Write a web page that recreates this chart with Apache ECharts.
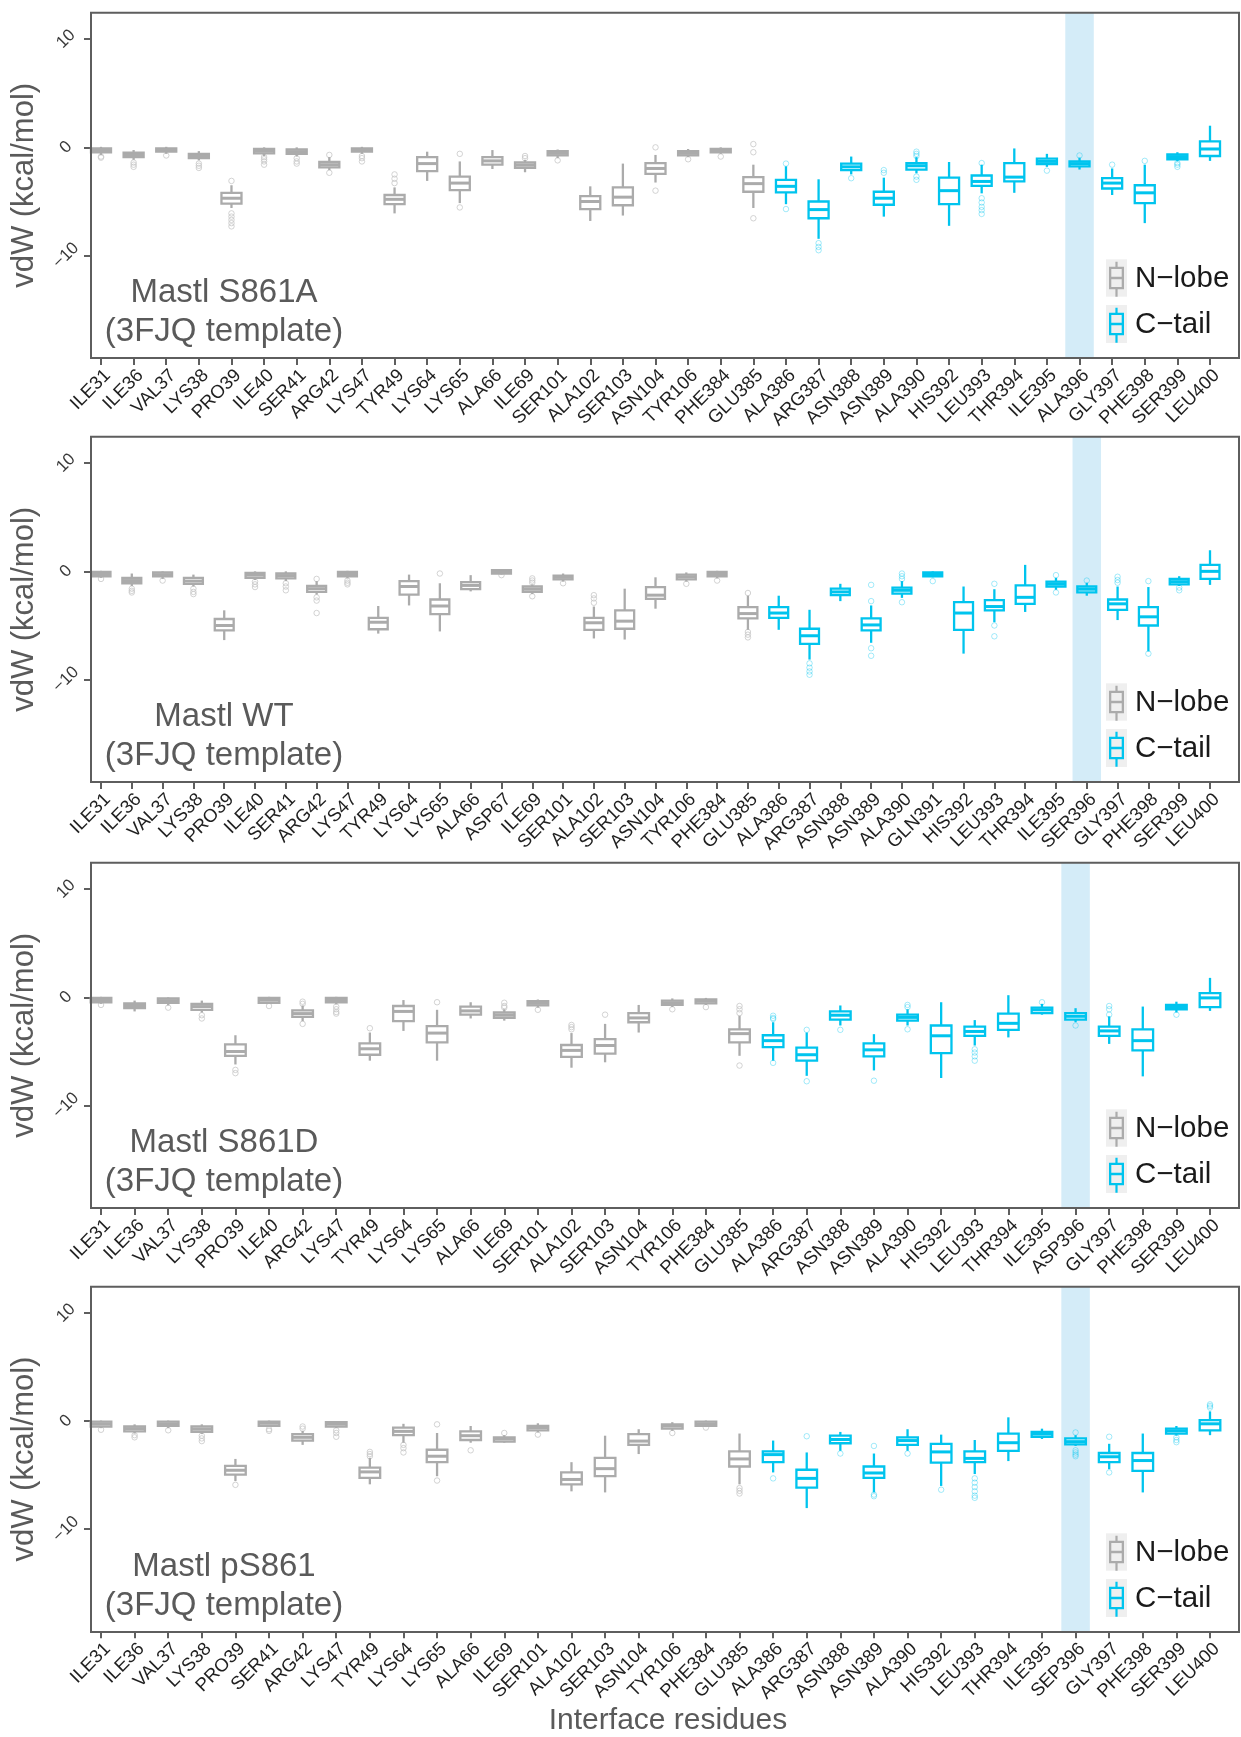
<!DOCTYPE html>
<html>
<head>
<meta charset="utf-8">
<script src="https://cdn.jsdelivr.net/npm/echarts@6/dist/echarts.min.js"></script>
<style>html,body{margin:0;padding:0;background:#fff}#chart{width:1241px;height:1737px}</style>
</head>
<body>
<div id="chart"></div>
<script>
// ---------------- data ----------------
const panelNames = ['Mastl S861A', 'Mastl WT', 'Mastl S861D', 'Mastl pS861'];
const templateLabel = '(3FJQ template)';
const groupNames = ['N\u2212lobe', 'C\u2212tail'];
const yTicks = [-10, 0, 10];
const yAxisTitle = 'vdW (kcal/mol)';
const xAxisTitle = 'Interface residues';
const highlightResidueNumber = 396;
const cTailFirstResidue = 386;

// box stats per residue: [lower whisker, Q1, median, Q3, upper whisker]
const residuesS861A = ['ILE31','ILE36','VAL37','LYS38','PRO39','ILE40','SER41','ARG42','LYS47','TYR49','LYS64','LYS65','ALA66','ILE69','SER101','ALA102','SER103','ASN104','TYR106','PHE384','GLU385','ALA386','ARG387','ASN388','ASN389','ALA390','HIS392','LEU393','THR394','ILE395','ALA396','GLY397','PHE398','SER399','LEU400'];
const boxesS861A = [
  [-0.7,-0.45,-0.28,-0.1,0.05],[-1.15,-0.9,-0.7,-0.5,-0.25],[-0.6,-0.4,-0.25,-0.1,0.05],[-1.2,-1.0,-0.8,-0.6,-0.35],
  [-5.6,-5.2,-4.7,-4.2,-3.5],[-0.8,-0.55,-0.35,-0.15,0.0],[-0.85,-0.6,-0.4,-0.2,0.0],[-2.1,-1.85,-1.6,-1.35,-0.9],
  [-0.6,-0.4,-0.25,-0.1,0.05],[-6.1,-5.25,-4.8,-4.4,-3.7],[-3.1,-2.2,-1.5,-0.9,-0.4],[-5.15,-3.95,-3.3,-2.7,-1.3],
  [-2.0,-1.6,-1.25,-0.9,-0.25],[-2.3,-1.9,-1.65,-1.4,-1.15],[-1.0,-0.75,-0.55,-0.35,-0.2],[-6.8,-5.7,-5.0,-4.5,-3.6],
  [-6.3,-5.35,-4.6,-3.7,-1.5],[-3.25,-2.45,-1.95,-1.45,-0.7],[-0.9,-0.75,-0.55,-0.35,-0.15],[-0.6,-0.45,-0.3,-0.15,0.0],
  [-5.6,-4.1,-3.35,-2.75,-1.6],[-5.25,-4.15,-3.6,-3.0,-1.75],[-8.45,-6.55,-5.75,-5.0,-2.95],[-2.5,-2.1,-1.8,-1.5,-0.85],
  [-6.4,-5.3,-4.7,-4.1,-2.8],[-2.4,-2.05,-1.7,-1.45,-0.9],[-7.25,-5.25,-4.0,-2.8,-1.35],[-4.25,-3.55,-3.15,-2.6,-1.6],
  [-4.2,-3.15,-2.75,-1.45,-0.1],[-1.8,-1.55,-1.3,-1.05,-0.6],[-2.05,-1.75,-1.5,-1.3,-0.95],[-4.4,-3.8,-3.3,-2.85,-1.95],
  [-7.0,-5.15,-4.2,-3.5,-1.6],[-1.3,-1.1,-0.85,-0.65,-0.45],[-1.25,-0.8,-0.15,0.55,2.0]
];
const outliersS861A = [
  [-0.85,-0.95],[-1.4,-1.6,-1.8],[-0.75],[-1.5,-1.7,-1.9],[-3.1,-6.1,-6.4,-6.7,-7.0,-7.3],[-0.9,-1.1,-1.3,-1.6],[-1.0,-1.3,-1.5],[-0.7,-2.35],
  [-0.8,-1.0,-1.3],[-2.5,-2.9,-3.3],[],[-0.6,-5.55],[],[-0.8,-1.0],[-1.2],[],
  [],[0.0,-4.0],[-1.1],[-0.85],[0.3,-0.45,-6.55],[-1.5,-5.7],[-8.85,-9.2,-9.5],[-2.85],
  [-2.1,-2.35],[-0.4,-0.6,-0.8,-2.7,-3.0],[],[-1.45,-4.7,-5.1,-5.5,-5.8,-6.15],[],[-2.15],[-0.75],[-1.6],
  [-1.25],[-1.45,-1.6,-1.8],[]
];

const residuesWT = ['ILE31','ILE36','VAL37','LYS38','PRO39','ILE40','SER41','ARG42','LYS47','TYR49','LYS64','LYS65','ALA66','ASP67','ILE69','SER101','ALA102','SER103','ASN104','TYR106','PHE384','GLU385','ALA386','ARG387','ASN388','ASN389','ALA390','GLN391','HIS392','LEU393','THR394','ILE395','SER396','GLY397','PHE398','SER399','LEU400'];
const boxesWT = [
  [-0.6,-0.45,-0.25,-0.05,0.05],[-1.35,-1.1,-0.85,-0.6,-0.2],[-0.7,-0.45,-0.3,-0.1,0.0],[-1.4,-1.15,-0.9,-0.6,-0.3],
  [-6.35,-5.45,-5.0,-4.4,-3.6],[-0.8,-0.6,-0.35,-0.15,0.0],[-0.9,-0.65,-0.4,-0.2,0.0],[-2.15,-1.9,-1.6,-1.35,-0.9],
  [-0.65,-0.45,-0.25,-0.05,0.05],[-5.75,-5.35,-4.7,-4.3,-3.2],[-3.15,-2.15,-1.4,-0.9,-0.3],[-5.55,-3.95,-3.2,-2.6,-1.1],
  [-1.85,-1.65,-1.3,-1.0,-0.35],[-0.3,-0.2,-0.05,0.1,0.2],[-2.1,-1.9,-1.65,-1.4,-1.2],[-0.95,-0.75,-0.55,-0.4,-0.2],
  [-6.2,-5.4,-4.75,-4.3,-3.25],[-6.3,-5.3,-4.6,-3.6,-1.6],[-3.45,-2.55,-2.2,-1.45,-0.55],[-0.95,-0.75,-0.5,-0.3,-0.1],
  [-0.65,-0.45,-0.25,-0.05,0.05],[-5.4,-4.35,-3.9,-3.3,-2.25],[-5.4,-4.3,-3.85,-3.3,-2.25],[-8.15,-6.7,-5.95,-5.3,-3.55],
  [-2.75,-2.2,-1.9,-1.6,-1.15],[-6.6,-5.45,-4.95,-4.35,-3.15],[-2.45,-2.05,-1.75,-1.5,-0.9],[-0.55,-0.45,-0.25,-0.1,0.0],
  [-7.6,-5.4,-3.85,-2.85,-1.4],[-4.7,-3.6,-3.25,-2.65,-1.65],[-3.75,-3.0,-2.4,-1.3,0.6],[-1.7,-1.4,-1.15,-0.95,-0.6],
  [-2.25,-1.95,-1.65,-1.4,-1.05],[-4.5,-3.55,-3.0,-2.6,-1.4],[-7.4,-5.0,-4.2,-3.3,-1.45],[-1.35,-1.2,-0.95,-0.7,-0.45],
  [-1.25,-0.7,0.0,0.6,1.95]
];
const outliersWT = [
  [-0.7],[-1.6,-1.8,-1.95],[-0.85],[-1.6,-1.9,-2.1],[],[-0.95,-1.2,-1.45],[-1.1,-1.4,-1.75],[-0.7,-2.4,-2.7,-3.85],
  [-0.85,-1.05,-1.2],[],[],[-0.2],[],[-0.35],[-0.65,-0.85,-1.05,-2.3],[-1.1],
  [-2.2,-2.5,-2.9],[],[],[-1.15],[-0.85],[-2.0,-5.6,-5.85,-6.1],[],[-8.5,-8.9,-9.25,-9.55],
  [],[-1.25,-2.75,-7.1,-7.8],[-0.2,-0.45,-0.7,-2.85],[-0.9],[],[-1.15,-5.0,-6.0],[],[-0.35,-1.95],
  [-0.85],[-0.5,-0.8,-1.05],[-0.9,-7.6],[-1.5,-1.75],[]
];

const residuesS861D = ['ILE31','ILE36','VAL37','LYS38','PRO39','ILE40','ARG42','LYS47','TYR49','LYS64','LYS65','ALA66','ILE69','SER101','ALA102','SER103','ASN104','TYR106','PHE384','GLU385','ALA386','ARG387','ASN388','ASN389','ALA390','HIS392','LEU393','THR394','ILE395','ASP396','GLY397','PHE398','SER399','LEU400'];
const boxesS861D = [
  [-0.6,-0.45,-0.25,-0.05,0.05],[-1.3,-1.0,-0.75,-0.55,-0.3],[-0.75,-0.5,-0.3,-0.1,0.0],[-1.4,-1.15,-0.85,-0.6,-0.3],
  [-6.2,-5.4,-5.0,-4.35,-3.5],[-0.6,-0.5,-0.25,-0.05,0.05],[-2.2,-1.8,-1.5,-1.2,-0.75],[-0.65,-0.45,-0.25,-0.05,0.05],
  [-5.85,-5.3,-4.75,-4.25,-3.25],[-3.1,-2.2,-1.3,-0.8,-0.25],[-5.85,-4.15,-3.3,-2.65,-1.15],[-1.95,-1.6,-1.25,-0.85,-0.45],
  [-2.15,-1.9,-1.65,-1.4,-1.1],[-0.95,-0.75,-0.55,-0.35,-0.2],[-6.5,-5.5,-4.9,-4.4,-3.3],[-6.0,-5.2,-4.45,-3.85,-2.45],
  [-3.25,-2.3,-1.9,-1.45,-0.7],[-0.9,-0.7,-0.5,-0.3,-0.1],[-0.7,-0.55,-0.35,-0.2,-0.05],[-5.4,-4.15,-3.35,-2.95,-1.7],
  [-5.85,-4.6,-4.0,-3.5,-2.3],[-7.25,-5.85,-5.3,-4.65,-3.25],[-2.6,-2.05,-1.65,-1.3,-0.75],[-6.75,-5.45,-4.85,-4.25,-3.4],
  [-2.6,-2.15,-1.85,-1.6,-1.1],[-7.45,-5.15,-3.55,-2.6,-0.45],[-4.45,-3.55,-3.15,-2.7,-2.1],[-3.7,-3.0,-2.4,-1.5,0.2],
  [-1.6,-1.45,-1.15,-0.95,-0.6],[-2.3,-2.05,-1.75,-1.45,-1.0],[-4.3,-3.55,-3.1,-2.7,-1.75],[-7.3,-4.9,-4.0,-2.95,-0.85],
  [-1.4,-1.1,-0.9,-0.7,-0.4],[-1.25,-0.9,-0.05,0.4,1.8]
];
const outliersS861D = [
  [-0.7],[],[-0.95],[-1.65,-1.95],[-6.7,-7.0],[-0.8],[-0.4,-0.6,-2.45],[-0.85,-1.1,-1.35,-1.5],
  [-2.85],[],[-0.45],[],[-0.5,-0.8,-0.95],[-1.15],[-2.55,-2.75,-2.95],[-1.6],
  [],[-1.1],[-0.9],[-0.8,-1.1,-1.45,-6.3],[-1.7,-1.9,-2.0,-6.05],[-3.0,-7.75],[-3.0],[-7.7],
  [-0.7,-0.9,-2.95],[],[-4.8,-5.1,-5.45,-5.85],[],[-0.45],[-2.6],[-0.8,-1.1,-1.6],[],
  [-1.6],[]
];

const residuesPS861 = ['ILE31','ILE36','VAL37','LYS38','PRO39','SER41','ARG42','LYS47','TYR49','LYS64','LYS65','ALA66','ILE69','SER101','ALA102','SER103','ASN104','TYR106','PHE384','GLU385','ALA386','ARG387','ASN388','ASN389','ALA390','HIS392','LEU393','THR394','ILE395','SEP396','GLY397','PHE398','SER399','LEU400'];
const boxesPS861 = [
  [-0.65,-0.5,-0.25,-0.05,0.05],[-1.15,-0.95,-0.7,-0.5,-0.3],[-0.65,-0.45,-0.25,-0.05,0.05],[-1.2,-1.0,-0.75,-0.5,-0.3],
  [-5.55,-4.95,-4.55,-4.15,-3.5],[-0.55,-0.45,-0.2,-0.05,0.05],[-2.2,-1.8,-1.5,-1.2,-0.9],[-0.65,-0.5,-0.25,-0.1,0.0],
  [-5.85,-5.25,-4.7,-4.3,-3.4],[-2.0,-1.3,-0.95,-0.6,-0.25],[-5.1,-3.8,-3.25,-2.65,-1.1],[-2.0,-1.75,-1.35,-0.95,-0.45],
  [-2.0,-1.9,-1.65,-1.5,-1.3],[-1.05,-0.85,-0.6,-0.45,-0.2],[-6.5,-5.85,-5.4,-4.75,-3.8],[-6.6,-5.1,-4.4,-3.4,-1.35],
  [-3.05,-2.2,-1.85,-1.2,-0.75],[-0.9,-0.7,-0.45,-0.3,-0.1],[-0.55,-0.45,-0.25,-0.05,0.05],[-5.85,-4.2,-3.5,-2.8,-1.15],
  [-4.75,-3.8,-3.1,-2.8,-1.8],[-8.05,-6.15,-5.3,-4.5,-2.9],[-2.75,-2.05,-1.7,-1.35,-1.0],[-6.6,-5.25,-4.8,-4.2,-3.0],
  [-2.75,-2.2,-1.8,-1.5,-0.75],[-6.0,-3.85,-2.85,-2.1,-1.25],[-4.9,-3.8,-3.45,-2.8,-1.75],[-3.7,-2.75,-2.0,-1.15,0.35],
  [-1.65,-1.45,-1.2,-1.0,-0.7],[-2.3,-2.15,-1.9,-1.6,-1.3],[-4.45,-3.8,-3.3,-2.95,-2.1],[-6.6,-4.6,-3.65,-2.95,-1.15],
  [-1.35,-1.15,-0.9,-0.7,-0.45],[-1.3,-0.85,-0.25,0.1,0.9]
];
const outliersPS861 = [
  [-0.8],[-1.3,-1.5],[-0.85],[-1.35,-1.6,-1.85],[-5.9],[-0.75,-0.9],[-0.5,-0.7],[-0.85,-1.1,-1.45],
  [-2.85,-3.05,-3.25],[-2.2,-2.5,-2.9],[-0.3,-5.5],[-2.7],[-1.1],[-1.25],[],[],
  [],[-1.1],[-0.6],[-6.2,-6.45,-6.7],[-5.3],[-1.4],[-3.0],[-2.3,-6.8,-6.95],
  [-3.0],[-6.35],[-5.3,-5.7,-6.1,-6.5,-6.9,-7.1],[],[],[-1.05,-2.7,-2.9,-3.1,-3.25],[-1.45,-4.75],[],
  [-1.5,-1.75,-1.95],[1.25,1.4,1.55]
];

// ---------------- layout & style ----------------
const FONT = '"Liberation Sans", Arial, Helvetica, sans-serif';
const COL = {
  gray: '#ABABAB', cyan: '#00C4EE',
  grayOut: '#C8C8C8', cyanOut: 'rgba(0,196,238,0.45)',
  band: '#D4ECF8', frame: '#5E5E5E', title: '#5A5A5A', tickText: '#1F1F1F', yText: '#3A3A3A', keyBg: '#EFEFEF'
};
const L = { frameLeft: 91, frameWidth: 1148, firstTick: 101, lastTick: 1210,
            tops: [12.7, 436.7, 862.7, 1286.7], height: 345.3 };
const Y_MIN = -19.46, Y_MAX = 12.44;

const panels = [
  { label: panelNames[0], residues: residuesS861A, boxes: boxesS861A, outliers: outliersS861A },
  { label: panelNames[1], residues: residuesWT, boxes: boxesWT, outliers: outliersWT },
  { label: panelNames[2], residues: residuesS861D, boxes: boxesS861D, outliers: outliersS861D },
  { label: panelNames[3], residues: residuesPS861, boxes: boxesPS861, outliers: outliersPS861 }
];

const resNum = r => parseInt(r.replace(/\D/g, ''), 10);
const groupOf = r => (resNum(r) >= cTailFirstResidue ? 1 : 0);

// legend glyph (whisker + box with median), holes cut by reverse winding
const glyph = 'path://M64,0L86,0L86,50L64,50Z M0,50L150,50L150,276L0,276Z M23,73L23,151L127,151L127,73Z M23,175L23,253L127,253L127,175Z M64,276L86,276L86,350L64,350Z';

function renderBox(params, api) {
  const idx = api.value(0);
  const lo = api.coord([idx, api.value(1)]);
  const q1 = api.coord([idx, api.value(2)]);
  const md = api.coord([idx, api.value(3)]);
  const q3 = api.coord([idx, api.value(4)]);
  const hi = api.coord([idx, api.value(5)]);
  const bw = api.size([1, 0])[0];
  const half = bw * 0.307;
  const cx = lo[0];
  const color = api.visual('color');
  const lw = 2.3;
  return {
    type: 'group',
    children: [
      { type: 'line', shape: { x1: cx, y1: hi[1], x2: cx, y2: q3[1] }, style: { stroke: color, lineWidth: lw } },
      { type: 'line', shape: { x1: cx, y1: q1[1], x2: cx, y2: lo[1] }, style: { stroke: color, lineWidth: lw } },
      { type: 'rect', shape: { x: cx - half, y: q3[1], width: 2 * half, height: q1[1] - q3[1] },
        style: { fill: '#ffffff', stroke: color, lineWidth: lw } },
      { type: 'line', shape: { x1: cx - half, y1: md[1], x2: cx + half, y2: md[1] }, style: { stroke: color, lineWidth: 3 } }
    ]
  };
}

function renderBand(params, api) {
  const idx = api.value(0);
  const t = api.coord([idx, Y_MAX]);
  const b = api.coord([idx, Y_MIN]);
  const w = 28.5;
  return { type: 'rect', shape: { x: t[0] - w / 2, y: t[1], width: w, height: b[1] - t[1] }, style: { fill: COL.band } };
}

const grid = [], xAxis = [], yAxis = [], series = [], legend = [], graphic = [];

panels.forEach((p, i) => {
  const n = p.residues.length;
  const bw = (L.lastTick - L.firstTick) / (n - 1);
  const gridLeft = L.firstTick - bw / 2;
  const top = L.tops[i];

  grid.push({ left: gridLeft, top: top, width: bw * n, height: L.height });

  xAxis.push({
    type: 'category', gridIndex: i, data: p.residues, boundaryGap: true,
    axisLine: { show: false, onZero: false },
    axisTick: { show: true, alignWithLabel: true, length: 7, lineStyle: { color: COL.frame, width: 2 } },
    axisLabel: { interval: 0, rotate: 45, align: 'right', verticalAlign: 'top', margin: 8,
                 fontSize: 18.5, color: COL.tickText, fontFamily: FONT },
    splitLine: { show: false },
    name: i === 3 ? xAxisTitle : '', nameLocation: 'middle', nameGap: 74,
    nameTextStyle: { fontSize: 30, color: COL.title, fontFamily: FONT, padding: [0, 0, 0, 25] }
  });

  yAxis.push({
    type: 'value', gridIndex: i, min: Y_MIN, max: Y_MAX, offset: gridLeft - L.frameLeft,
    axisLine: { show: false, onZero: false },
    axisTick: { show: true, length: 7, customValues: yTicks, lineStyle: { color: COL.frame, width: 2 } },
    axisLabel: { customValues: yTicks, rotate: 45, align: 'center', verticalAlign: 'middle', margin: 25,
                 fontSize: 17, color: COL.yText, fontFamily: FONT,
                 formatter: v => (v < 0 ? '\u2212' + Math.abs(v) : String(v)) },
    splitLine: { show: false },
    name: yAxisTitle, nameLocation: 'middle', nameGap: 43,
    nameTextStyle: { fontSize: 31, color: COL.title, fontFamily: FONT }
  });

  // highlighted residue band
  const hIdx = p.residues.findIndex(r => resNum(r) === highlightResidueNumber);
  series.push({
    type: 'custom', xAxisIndex: i, yAxisIndex: i, silent: true, z: 1,
    data: [[hIdx, 0]], encode: { x: 0, y: 1 }, renderItem: renderBand
  });

  [0, 1].forEach(g => {
    const rows = [], outs = [];
    p.residues.forEach((r, k) => {
      if (groupOf(r) !== g) return;
      rows.push([k].concat(p.boxes[k]));
      p.outliers[k].forEach(v => outs.push([k, v]));
    });
    series.push({
      type: 'scatter', name: groupNames[g] + ' outliers', xAxisIndex: i, yAxisIndex: i, silent: true, z: 2,
      symbol: 'circle', symbolSize: 5.5, data: outs,
      itemStyle: { color: 'rgba(0,0,0,0)', borderColor: g ? COL.cyanOut : COL.grayOut, borderWidth: 1 }
    });
    series.push({
      type: 'custom', name: groupNames[g], xAxisIndex: i, yAxisIndex: i, z: 3,
      data: rows, encode: { x: 0, y: [1, 2, 3, 4, 5] }, renderItem: renderBox,
      itemStyle: { color: g ? COL.cyan : COL.gray }
    });
  });

  legend.push({
    orient: 'vertical', left: 1109, top: top + 249, padding: 0,
    itemWidth: 15, itemHeight: 35, itemGap: 11, selectedMode: false,
    data: groupNames.map((nm, g) => ({ name: nm, icon: glyph,
      itemStyle: { color: g ? COL.cyan : COL.gray, borderWidth: 0 } })),
    textStyle: { fontSize: 29.5, color: '#1A1A1A', fontFamily: FONT, padding: [0, 0, 0, 6] }
  });

  // panel frame, legend key backgrounds, panel label
  graphic.push(
    { type: 'rect', silent: true, z: 100,
      shape: { x: L.frameLeft, y: top, width: L.frameWidth, height: L.height },
      style: { fill: 'none', stroke: COL.frame, lineWidth: 2 } },
    { type: 'rect', silent: true, z: 1, shape: { x: 1106, y: top + 246.6, width: 21, height: 37.4 }, style: { fill: COL.keyBg } },
    { type: 'rect', silent: true, z: 1, shape: { x: 1106, y: top + 292.3, width: 21, height: 38 }, style: { fill: COL.keyBg } },
    { type: 'text', silent: true, z: 50, x: 224, y: top + 280.5,
      style: { text: p.label, fill: COL.title, fontSize: 33, fontFamily: FONT,
               align: 'center', verticalAlign: 'middle', textAlign: 'center', textVerticalAlign: 'middle' } },
    { type: 'text', silent: true, z: 50, x: 224, y: top + 319.5,
      style: { text: templateLabel, fill: COL.title, fontSize: 33, fontFamily: FONT,
               align: 'center', verticalAlign: 'middle', textAlign: 'center', textVerticalAlign: 'middle' } }
  );
});

const chart = echarts.init(document.getElementById('chart'), null, { renderer: 'canvas' });
chart.setOption({
  animation: false,
  backgroundColor: '#ffffff',
  textStyle: { fontFamily: FONT },
  grid, xAxis, yAxis, series, legend, graphic
});
</script>
</body>
</html>
